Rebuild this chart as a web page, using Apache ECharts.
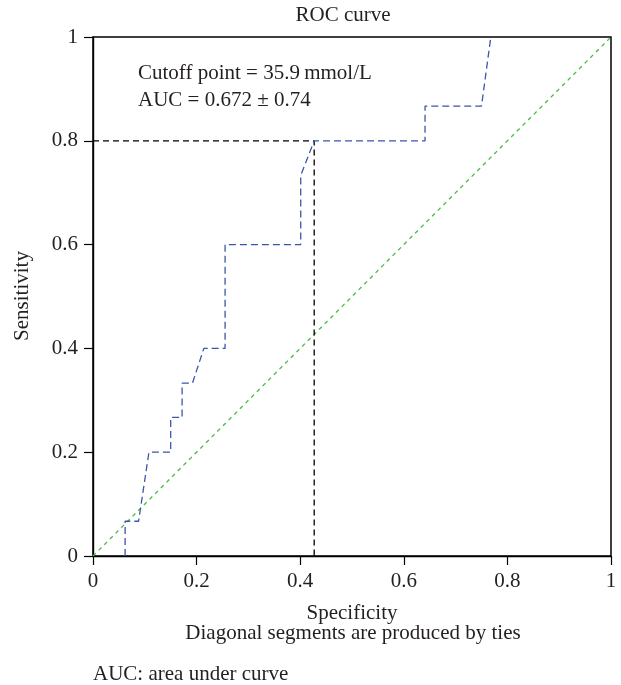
<!DOCTYPE html>
<html><head><meta charset="utf-8">
<script src="https://cdn.jsdelivr.net/npm/echarts@6/dist/echarts.min.js"></script>
<style>html,body{margin:0;padding:0;background:#fff}#c{width:621px;height:685px}</style>
</head><body><div id="c"></div>
<script>
// ROC curve (step curve)
const rocX = [0.062, 0.062, 0.088, 0.108, 0.150, 0.150, 0.172, 0.172, 0.192, 0.214, 0.255, 0.255, 0.401, 0.401, 0.427, 0.641, 0.641, 0.750, 0.768];
const rocY = [0.000, 0.067, 0.067, 0.200, 0.200, 0.267, 0.267, 0.333, 0.333, 0.400, 0.400, 0.600, 0.600, 0.733, 0.800, 0.800, 0.867, 0.867, 1.000];
// cutoff guide lines
const cutoffX = [0, 0.427, 0.427];
const cutoffY = [0.8, 0.8, 0];
// reference diagonal
const refX = [0, 1];
const refY = [0, 1];
// texts
const titleText = 'ROC curve';
const xName = 'Specificity';
const yName = 'Sensitivity';
const noteLines = ['Cutoff point = 35.9\u2009mmol/L', 'AUC = 0.672 \u00b1 0.74'];
const subText = 'Diagonal segments are produced by ties';
const footText = 'AUC: area under curve';

const FONT = '"Liberation Serif", "DejaVu Serif", serif';
const FS = 21;
const TXT = '#231f20';
const zip = (a, b) => a.map((v, i) => [v, b[i]]);

const chart = echarts.init(document.getElementById('c'), null, {renderer: 'canvas'});
const axisCommon = {
  type: 'value', min: 0, max: 1, interval: 0.2,
  axisLine: {show: true, lineStyle: {color: '#000', width: 1.4}},
  axisTick: {show: true, inside: false, length: 9, lineStyle: {color: '#000', width: 1.2}},
  splitLine: {show: false},
  axisLabel: {fontFamily: FONT, fontSize: FS, color: TXT}
};
chart.setOption({
  animation: false,
  backgroundColor: '#fff',
  grid: {left: 93, right: 10, top: 37, bottom: 129, show: true, borderColor: '#000', borderWidth: 1.5, backgroundColor: 'transparent'},
  xAxis: Object.assign({}, axisCommon, {axisLabel: Object.assign({}, axisCommon.axisLabel, {margin: 15})}),
  yAxis: Object.assign({}, axisCommon, {axisLabel: Object.assign({}, axisCommon.axisLabel, {margin: 15})}),
  series: [
    {type: 'line', data: zip(refX, refY), showSymbol: false, symbol: 'none',
     lineStyle: {color: '#4db848', width: 1.3, type: [4, 4]}, z: 2},
    {type: 'line', data: zip(cutoffX, cutoffY), showSymbol: false, symbol: 'none',
     lineStyle: {color: '#000', width: 1.3, type: [6, 4]}, z: 3},
    {type: 'line', data: zip(rocX, rocY), showSymbol: false, symbol: 'none',
     lineStyle: {color: '#3a57a7', width: 1.3, type: [7, 4]}, z: 4}
  ],
  graphic: [
    {type: 'text', x: 343, y: 15, style: {text: titleText, fontFamily: FONT, fontSize: FS, fill: TXT, align: 'center', verticalAlign: 'middle'}},
    {type: 'text', x: 138, y: 73, style: {text: noteLines[0], fontFamily: FONT, fontSize: FS, fill: TXT, align: 'left', verticalAlign: 'middle'}},
    {type: 'text', x: 138, y: 100, style: {text: noteLines[1], fontFamily: FONT, fontSize: FS, fill: TXT, align: 'left', verticalAlign: 'middle'}},
    {type: 'text', x: 352, y: 613, style: {text: xName, fontFamily: FONT, fontSize: FS, fill: TXT, align: 'center', verticalAlign: 'middle'}},
    {type: 'text', x: 353, y: 633, style: {text: subText, fontFamily: FONT, fontSize: FS, fill: TXT, align: 'center', verticalAlign: 'middle'}},
    {type: 'text', x: 93, y: 674, style: {text: footText, fontFamily: FONT, fontSize: FS, fill: TXT, align: 'left', verticalAlign: 'middle'}},
    {type: 'text', x: 22, y: 296, rotation: Math.PI / 2, style: {text: yName, fontFamily: FONT, fontSize: FS, fill: TXT, align: 'center', verticalAlign: 'middle'}}
  ]
});
</script></body></html>
